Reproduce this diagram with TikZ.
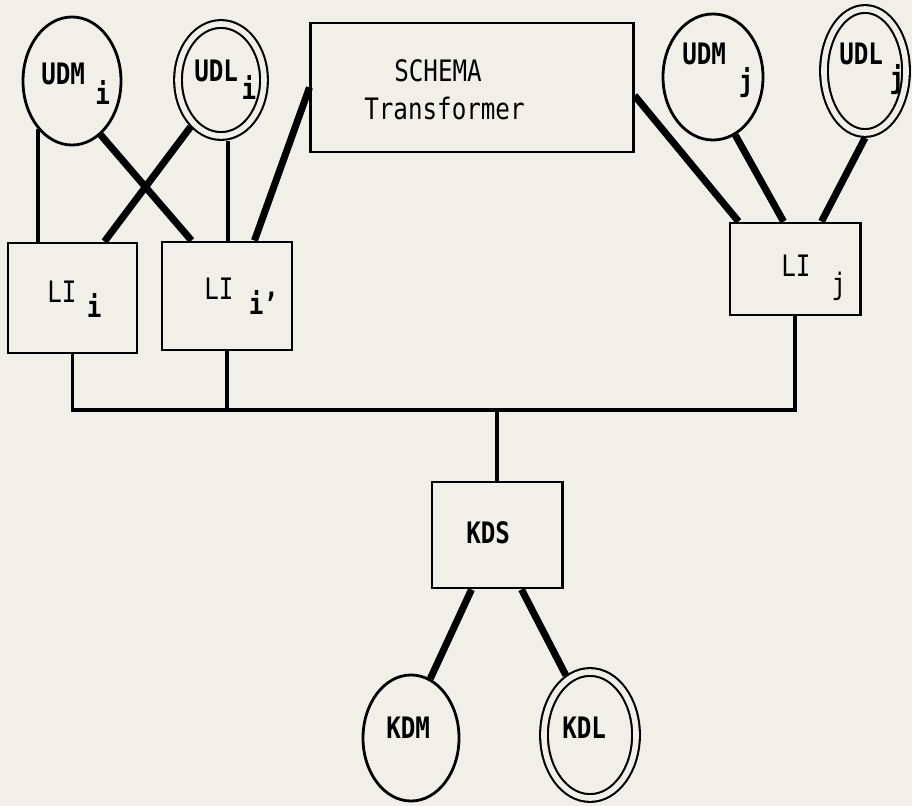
\documentclass[tikz,border=0pt]{standalone}
\usepackage{fontspec}
\setmonofont[FakeStretch=0.82]{DejaVu Sans Mono}
\usetikzlibrary{shapes.geometric,calc}
\definecolor{bg}{RGB}{241,240,232}
\begin{document}
\begin{tikzpicture}[x=0.025cm,y=-0.025cm]
\tikzset{
  bx/.style={draw, rectangle, line width=2.1pt, inner sep=0pt, fill=bg},
  el/.style={draw, ellipse, line width=2pt, inner sep=0pt, fill=bg},
  del/.style={draw, ellipse, line width=1.5pt, inner sep=0pt, fill=bg, double=bg, double distance=4pt, outer sep=3.5pt},
  wire/.style={line width=2.8pt},
  bond/.style={line width=5pt},
  lab/.style={anchor=base west, inner sep=0pt, font=\ttfamily\fontsize{21}{22}\selectfont},
  blab/.style={lab, font=\ttfamily\bfseries\fontsize{21}{22}\selectfont}
}
\fill[bg] (0,0) rectangle (912,806);
\useasboundingbox (0,0) rectangle (912,806);

% shapes
\node[el, minimum width=2.45cm, minimum height=3.2cm] (udmi) at (72,81) {};
\node[del, minimum width=2.15cm, minimum height=2.8cm] (udli) at (221,80) {};
\node[bx, minimum width=8.05cm, minimum height=3.225cm] (schema) at (472,87.5) {};
\node[el, minimum width=2.5cm, minimum height=3.15cm] (udmj) at (713,77) {};
\node[del, minimum width=2.05cm, minimum height=3.1cm] (udlj) at (865,71) {};
\node[bx, minimum width=3.225cm, minimum height=2.75cm] (lii) at (72.5,298) {};
\node[bx, minimum width=3.25cm, minimum height=2.7cm] (lipi) at (227,296) {};
\node[bx, minimum width=3.25cm, minimum height=2.3cm] (lij) at (795,269) {};
\node[bx, minimum width=3.25cm, minimum height=2.65cm] (kds) at (497,535) {};
\node[el, minimum width=2.4cm, minimum height=3.15cm] (kdm) at (411,738) {};
\node[del, minimum width=2.3cm, minimum height=3.15cm] (kdl) at (590,735) {};

% labels
\node[blab] (tudmi) at (41,85) {UDM\hspace{7.4pt}\raisebox{-14pt}{i}};
\node[blab] (tudli) at (194,82) {UDL\hspace{2.5pt}\raisebox{-12.8pt}{i}};
\node[lab] (tschema) at (394,82) {SCHEMA};
\node[lab] (ttrans) at (364,120) {Transformer};
\node[blab] (tudmj) at (682,65) {UDM\hspace{9.2pt}\raisebox{-19pt}{j}};
\node[blab] (tudlj) at (839,65) {UDL\hspace{4.6pt}\raisebox{-17pt}{j}};
\node[lab] (tlii) at (47,303) {LI\hspace{7.4pt}\raisebox{-10pt}{\bfseries i}};
\node[lab] (tlipi) at (204,300) {LI\hspace{11pt}\raisebox{-10.6pt}{\bfseries i’}};
\node[lab] (tlij) at (781,277) {LI\hspace{15pt}\raisebox{-12.8pt}{j}};
\node[blab] (tkds) at (466,543) {KDS};
\node[blab] (tkdm) at (386,738) {KDM};
\node[blab] (tkdl) at (562,738) {KDL};

% connectors
\draw[wire] (udmi.235) -- (udmi.235 |- lii.north);
\draw[bond] (udmi.298) -- ([xshift=0.775cm]lipi.north west);
\draw[bond] (udli.237) -- ([xshift=-0.85cm]lii.north east);
\draw[wire] ([xshift=0.175cm]udli.south) -- ([xshift=0.175cm]udli.south |- lipi.north);
\draw[bond] (schema.west) -- ([xshift=-0.975cm]lipi.north east);
\draw[bond] ([yshift=-0.2cm]schema.east) -- ([xshift=0.25cm]lij.north west);
\draw[bond] (udmj.291) -- ([xshift=1.375cm]lij.north west);
\draw[bond] (udlj.south) -- ([xshift=2.325cm]lij.north west);

\coordinate (bus) at (497,410);
\draw[wire] (lii.south) |- (bus) -| (lij.south);
\draw[wire] (lipi.south) -- (lipi.south |- bus);
\draw[wire] (bus) -- (kds.north);
\draw[bond] ([xshift=1.025cm]kds.south west) -- (kdm.72);
\draw[bond] ([xshift=2.275cm]kds.south west) -- (kdl.112);
\end{tikzpicture}
\end{document}
